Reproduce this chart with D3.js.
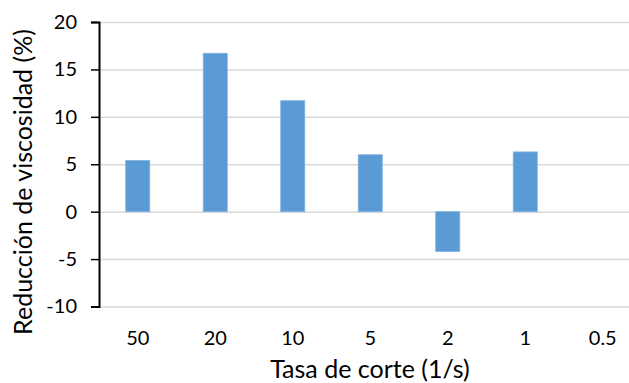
<!DOCTYPE html>
<html>
<head>
<meta charset="utf-8">
<script src="https://cdn.jsdelivr.net/npm/d3@7"></script>
<style>
  body { margin: 0; background: #fff; }
  svg { display: block; }
  .grid line { stroke: #d9d9d9; stroke-width: 1.5px; }
  .grid .domain { display: none; }
  .axis text { font-family: Lato, "Open Sans", sans-serif; font-size: 20px; fill: #000; }
  .title { font-family: Lato, "Open Sans", sans-serif; font-size: 25px; fill: #000; }
</style>
</head>
<body>
<svg width="629" height="383"></svg>
<script>
// data
var categories = ["50", "20", "10", "5", "2", "1", "0.5"];
var values = [5.4, 16.7, 11.7, 6.0, -4.2, 6.3, null];
var yTicks = [-10, -5, 0, 5, 10, 15, 20];

var svg = d3.select("svg"),
    margin = {top: 22, right: -12.5, bottom: 76.5, left: 99},
    width = svg.attr("width") - margin.left - margin.right,
    height = svg.attr("height") - margin.top - margin.bottom,
    g = svg.append("g").attr("transform", "translate(" + margin.left + "," + margin.top + ")");

var xScale = d3.scaleBand().domain(categories).range([0, width]).paddingInner(0.69).paddingOuter(0.345),
    yScale = d3.scaleLinear().domain([-10, 20]).range([height, 0]);

// gridlines
g.append("g")
    .attr("class", "grid")
    .call(d3.axisLeft(yScale).tickValues(yTicks).tickSize(-width).tickFormat(""));

// bars
var data = categories.map(function(c, i) { return {cat: c, v: values[i]}; })
    .filter(function(d) { return d.v != null; });

g.selectAll(".bar")
    .data(data)
    .enter().append("rect")
      .attr("class", "bar")
      .attr("x", function(d) { return xScale(d.cat); })
      .attr("width", xScale.bandwidth())
      .attr("y", function(d) { return yScale(Math.max(0, d.v)); })
      .attr("height", function(d) { return Math.abs(yScale(d.v) - yScale(0)); })
      .attr("fill", "#5b9bd5")
      .attr("stroke", "#7fb1e0")
      .attr("stroke-width", 0.8);

// y axis, plain hyphen for negatives
var yAxis = g.append("g")
    .attr("class", "axis")
    .call(d3.axisLeft(yScale).tickValues(yTicks).tickSize(8).tickPadding(14)
        .tickFormat(function(d) { return String(d); }));
yAxis.select(".domain").attr("stroke", "#000").attr("stroke-width", 2);
yAxis.selectAll(".tick line").attr("stroke", "#000").attr("stroke-width", 1.5);

// x labels (no axis line)
var xAxis = g.append("g")
    .attr("class", "axis")
    .attr("transform", "translate(0," + height + ")")
    .call(d3.axisBottom(xScale).tickSize(0).tickPadding(24));
xAxis.select(".domain").remove();

svg.append("text")
    .attr("class", "title")
    .attr("x", 370)
    .attr("y", 378)
    .attr("text-anchor", "middle")
    .text("Tasa de corte (1/s)");

svg.append("text")
    .attr("class", "title")
    .attr("transform", "translate(32,182) rotate(-90)")
    .attr("text-anchor", "middle")
    .text("Reducción de viscosidad (%)");
</script>
</body>
</html>
